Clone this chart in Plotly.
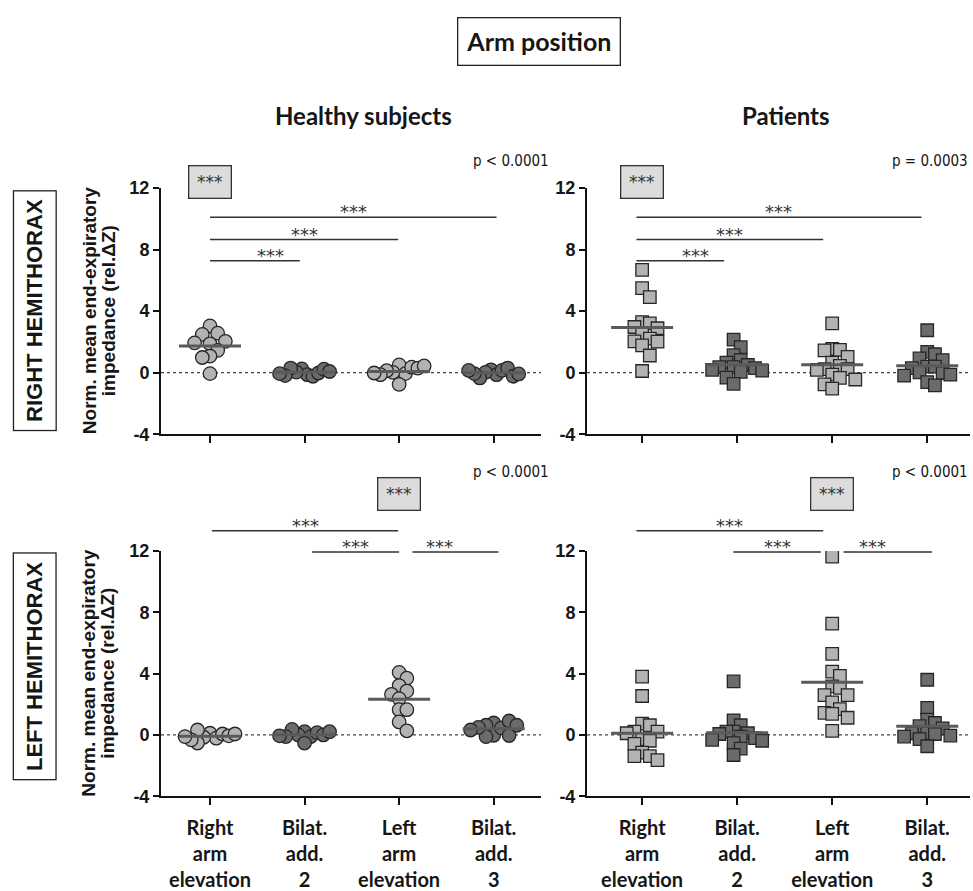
import numpy as np
import plotly.graph_objects as go

W, H = 973, 891

# ---------------- data ----------------
categories = ["Right arm elevation", "Bilat. add. 2", "Left arm elevation", "Bilat. add. 3"]
category_labels = ["Right<br>arm<br>elevation", "Bilat.<br>add.<br>2",
                   "Left<br>arm<br>elevation", "Bilat.<br>add.<br>3"]
y_tick_values = [-4, 0, 4, 8, 12]
y_tick_labels = ["-4", "0", "4", "8", "12"]

# Healthy subjects - right hemithorax
healthy_right_rae = [3.04, 2.57, 2.49, 1.88, 2.04, 1.94, 1.45, 1.08, 0.99, -0.06]
healthy_right_ba2 = [0.25, -0.13, 0.04, -0.23, 0.30, -0.02, -0.19, 0.23, -0.06, 0.08]
healthy_right_lae = [0.51, -0.06, 0.02, 0.36, -0.76, 0.13, 0.30, -0.13, 0.44, -0.02]
healthy_right_ba3 = [0.19, -0.13, 0.02, 0.15, -0.34, 0.30, -0.06, -0.23, 0.15, -0.08]
# Patients - right hemithorax
patients_right_rae = [6.68, 5.50, 4.91, 3.29, 3.20, 2.97, 2.89, 2.51, 2.21, 2.04, 2.02, 1.77, 1.12, 0.11]
patients_right_ba2 = [2.15, 1.66, 1.14, 0.82, 0.65, 0.50, 0.36, 0.36, 0.30, 0.19, 0.13, 0.06, -0.32, -0.72]
patients_right_lae = [3.20, 1.54, 1.48, 1.45, 1.03, 0.65, 0.44, 0.23, 0.23, 0.19, -0.13, -0.34, -0.44, -0.76, -1.03]
patients_right_ba3 = [2.76, 1.35, 1.20, 0.93, 0.82, 0.40, 0.40, 0.30, 0.02, -0.02, -0.13, -0.19, -0.61, -0.82]
# Healthy subjects - left hemithorax
healthy_left_rae = [0.11, -0.21, -0.15, 0.06, 0.32, -0.53, -0.06, -0.32, 0.06, -0.11]
healthy_left_ba2 = [0.21, -0.11, 0.00, 0.15, -0.53, 0.36, 0.00, -0.11, 0.21, -0.06]
healthy_left_lae = [4.08, 3.70, 3.22, 2.86, 2.65, 2.37, 1.65, 1.65, 0.85, 0.27]
healthy_left_ba3 = [0.78, -0.02, 0.46, 0.63, -0.11, 0.91, 0.49, -0.04, 0.63, 0.32]
# Patients - left hemithorax
patients_left_rae = [3.81, 2.54, 0.74, 0.63, 0.21, 0.21, 0.11, -0.27, -0.38, -0.59, -1.16, -1.38, -1.38, -1.65]
patients_left_ba2 = [3.49, 0.95, 0.63, 0.21, 0.21, 0.11, 0.06, -0.11, -0.21, -0.32, -0.38, -0.53, -0.89, -1.31]
patients_left_lae = [11.64, 7.26, 5.29, 4.13, 3.85, 3.17, 3.07, 2.60, 2.60, 2.12, 1.69, 1.44, 1.38, 1.12, 0.27]
patients_left_ba3 = [3.60, 1.76, 1.00, 0.78, 0.57, 0.43, 0.11, 0.11, 0.06, -0.04, -0.11, -0.27, -0.74]

p_values = ["p < 0.0001", "p = 0.0003", "p < 0.0001", "p < 0.0001"]
column_titles = ["Healthy subjects", "Patients"]
row_titles = ["RIGHT HEMITHORAX", "LEFT HEMITHORAX"]
y_title_lines = ["Norm. mean end-expiratory", "impedance (rel.\u0394Z)"]

# ---------------- styling / layout ----------------
LIGHT = "#b3b3b3"
DARK = "#6b6b6b"
EDGE = "#262626"
TXT = "#161616"
SANS = "Liberation Sans, Arial, sans-serif"
HUM = "Lato, Open Sans, sans-serif"
NARROW = "Liberation Sans Narrow, DejaVu Sans Condensed, sans-serif"
STAR = "DejaVu Sans, sans-serif"

panels = [
    dict(groups=[healthy_right_rae, healthy_right_ba2, healthy_right_lae, healthy_right_ba3],
         symbol="circle", size=13.5, xpx=(161, 541), ypx=(183, 436), xr=(0.482, 4.50),
         star_cat=1, star_y=12.38, bottom=False,
         bars=[(1.0, 4.03, 10.1), (1.0, 2.99, 8.65), (1.0, 1.95, 7.28)]),
    dict(groups=[patients_right_rae, patients_right_ba2, patients_right_lae, patients_right_ba3],
         symbol="square", size=12.5, xpx=(587, 970), ypx=(183, 436), xr=(0.42, 4.45),
         star_cat=1, star_y=12.38, bottom=False,
         bars=[(0.94, 3.94, 10.1), (0.94, 2.905, 8.65), (0.94, 1.863, 7.28)]),
    dict(groups=[healthy_left_rae, healthy_left_ba2, healthy_left_lae, healthy_left_ba3],
         symbol="circle", size=13.5, xpx=(161, 541), ypx=(556, 808), xr=(0.482, 4.50),
         star_cat=3, star_y=15.71, bottom=True,
         bars=[(1.02, 2.99, 13.33), (2.08, 3.0, 11.94), (3.14, 4.05, 11.94)]),
    dict(groups=[patients_left_rae, patients_left_ba2, patients_left_lae, patients_left_ba3],
         symbol="square", size=12.5, xpx=(587, 970), ypx=(556, 808), xr=(0.42, 4.45),
         star_cat=3, star_y=15.71, bottom=True,
         bars=[(0.94, 2.905, 13.33), (1.96, 2.88, 11.94), (3.12, 4.05, 11.94)]),
]


def swarm_offsets_px(values, px_per_unit, min_dy, step_px, max_width_px):
    """Grid beeswarm (Prism-like), points placed in data order; offsets in pixels."""
    vals = np.asarray(values, dtype=float)
    placed = []
    cols = np.zeros(len(vals))
    cands = [0]
    for k in range(1, 15):
        cands += [k, -k]
    for i in range(len(vals)):
        y = vals[i] * px_per_unit
        for c in cands:
            if all(not (pc == c and abs(py - y) < min_dy) for pc, py in placed):
                break
        placed.append((c, y))
        cols[i] = c
    span = cols.max() - cols.min()
    if span > 0 and span * step_px > max_width_px:
        step_px = max_width_px / span
    if span * step_px > 40:
        cols = cols - (cols.max() + cols.min()) / 2.0
    return cols * step_px


fig = go.Figure()
layout = dict(width=W, height=H, margin=dict(l=0, r=0, t=0, b=0),
              plot_bgcolor="white", paper_bgcolor="white", showlegend=False)
shapes = []
annotations = []

for p_i, pn in enumerate(panels):
    sfx = "" if p_i == 0 else str(p_i + 1)
    xa, ya = "x" + sfx, "y" + sfx
    x0p, x1p = pn["xpx"]
    y0p, y1p = pn["ypx"]
    r0, r1 = pn["xr"]
    cat_px = (x1p - x0p) / (r1 - r0)
    y_px = (y1p - y0p) / 16.0

    def fx(v, r0=r0, r1=r1):
        return (v - r0) / (r1 - r0)

    def fy(v):
        return (v + 4) / 16.0

    layout["xaxis" + sfx] = dict(
        domain=[x0p / W, x1p / W], range=[r0, r1], anchor=ya,
        showline=True, linecolor="#111", linewidth=2, mirror=False,
        ticks="outside", ticklen=7, tickwidth=2, tickcolor="#111",
        tickmode="array", tickvals=[1, 2, 3, 4],
        ticktext=["<b>%s</b>" % t for t in category_labels],
        ticklabelstandoff=6,
        showticklabels=pn["bottom"], tickfont=dict(family=HUM, size=20, color=TXT),
        showgrid=False, zeroline=False, fixedrange=True)
    layout["yaxis" + sfx] = dict(
        domain=[1 - y1p / H, 1 - y0p / H], range=[-4, 12], anchor=xa,
        showline=True, linecolor="#111", linewidth=2,
        ticks="outside", ticklen=6, tickwidth=2, tickcolor="#111",
        tickmode="array", tickvals=y_tick_values,
        ticktext=["<b>%s</b>" % t for t in y_tick_labels],
        tickfont=dict(family=SANS, size=18, color=TXT),
        showgrid=False, zeroline=False, fixedrange=True)

    # zero dotted line
    shapes.append(dict(type="line", xref=xa, yref=ya, x0=r0, x1=r1, y0=0, y1=0,
                       line=dict(color="#444", width=1.2, dash="dot"), layer="below"))

    # points
    for g_i, vals in enumerate(pn["groups"]):
        off = swarm_offsets_px(vals, y_px, 11.0, 7.7, 50.0)
        xs = (g_i + 1) + off / cat_px
        fig.add_trace(go.Scatter(
            x=xs, y=vals, mode="markers", xaxis=xa, yaxis=ya, hoverinfo="y",
            marker=dict(symbol=pn["symbol"], size=pn["size"],
                        color=LIGHT if g_i % 2 == 0 else DARK,
                        line=dict(color=EDGE, width=1.3))))
    # means
    for g_i, vals in enumerate(pn["groups"]):
        m = float(np.mean(vals))
        c = g_i + 1
        half = 31.0 / cat_px
        fig.add_trace(go.Scatter(x=[c - half, c + half], y=[m, m], mode="lines",
                                 xaxis=xa, yaxis=ya, hoverinfo="skip",
                                 line=dict(color="#5a5a5a", width=3)))

    # significance bars
    for a, b, lvl in pn["bars"]:
        shapes.append(dict(type="line", xref=xa + " domain", yref=ya + " domain",
                           x0=fx(a), x1=fx(b), y0=fy(lvl), y1=fy(lvl),
                           line=dict(color="#333", width=1.5)))
        annotations.append(dict(x=fx((a + b) / 2), y=fy(lvl),
                                xref=xa + " domain", yref=ya + " domain", text="***",
                                showarrow=False, yanchor="bottom", yshift=-7,
                                font=dict(family=STAR, size=18, color="#333")))
    # grey box with ***
    annotations.append(dict(x=fx(pn["star_cat"]), y=fy(pn["star_y"]),
                            xref=xa + " domain", yref=ya + " domain", text="***",
                            showarrow=False, xanchor="center", yanchor="middle",
                            width=41, height=31, bgcolor="#dcdcdc", bordercolor="#333",
                            borderwidth=1.3, borderpad=0,
                            font=dict(family=STAR, size=17, color="#333")))
    # p value
    annotations.append(dict(x=(551 if p_i % 2 == 0 else 970) / W,
                            y=1 - (155 if p_i < 2 else 475) / H,
                            xref="paper", yref="paper", text=p_values[p_i], showarrow=False,
                            xanchor="right", yanchor="middle",
                            font=dict(family=NARROW, size=15, color=TXT)))

# row titles + y-axis titles
for r_i, (yc_box, yc) in enumerate([(309, 309.5), (675, 682)]):
    annotations.append(dict(x=34.5 / W, y=1 - yc_box / H, xref="paper", yref="paper",
                            text="<b>%s</b>" % row_titles[r_i], textangle=-90, showarrow=False,
                            xanchor="center", yanchor="middle",
                            bordercolor="#222", borderwidth=1.3, borderpad=8,
                            font=dict(family=SANS, size=22, color=TXT)))
    for l_i, xline in enumerate([89, 108]):
        annotations.append(dict(x=xline / W, y=1 - yc / H, xref="paper", yref="paper",
                                text="<b>%s</b>" % y_title_lines[l_i], textangle=-90,
                                showarrow=False, xanchor="center", yanchor="middle",
                                font=dict(family=SANS, size=19, color=TXT)))

# column titles
for c_i, xc in enumerate([363, 786]):
    annotations.append(dict(x=xc / W, y=1 - 108 / H, xref="paper", yref="paper",
                            text="<b>%s</b>" % column_titles[c_i], showarrow=False,
                            xanchor="center", yanchor="middle",
                            font=dict(family=HUM, size=24, color=TXT)))

# main title box
annotations.append(dict(x=539 / W, y=1 - 32 / H, xref="paper", yref="paper",
                        text="<b>Arm position</b>", showarrow=False,
                        xanchor="center", yanchor="middle",
                        bordercolor="#222", borderwidth=1.3, borderpad=8,
                        font=dict(family=HUM, size=25, color=TXT)))

layout["shapes"] = shapes
layout["annotations"] = annotations
fig.update_layout(**layout)
fig.write_html("out.html")
